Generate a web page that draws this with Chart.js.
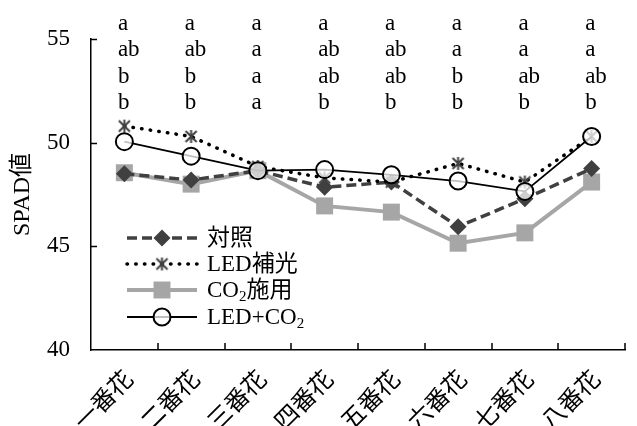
<!DOCTYPE html>
<html>
<head>
<meta charset="utf-8">
<script src="https://cdn.jsdelivr.net/npm/chart.js@4.4.0/dist/chart.umd.min.js"></script>
<style>
  html, body { margin: 0; padding: 0; background: #fff; }
</style>
</head>
<body>
<canvas id="chart" width="637" height="426"></canvas>
<script>
const categories = ['一番花', '二番花', '三番花', '四番花', '五番花', '六番花', '七番花', '八番花'];
const seriesNames = ['対照', 'LED補光', 'CO₂施用', 'LED+CO₂'];

const control = [48.5, 48.2, 48.65, 47.85, 48.1, 45.95, 47.3, 48.75];
const ledLight = [50.8, 50.3, 48.85, 48.3, 48.1, 49.0, 48.1, 50.3];
const co2 = [48.55, 48.0, 48.65, 46.95, 46.65, 45.15, 45.65, 48.1];
const ledCo2 = [50.05, 49.35, 48.65, 48.7, 48.45, 48.15, 47.65, 50.3];

const yTicks = [40, 45, 50, 55];

// significance letters, one row per line of text above the plot
const letterRows = [
  ['a', 'a', 'a', 'a', 'a', 'a', 'a', 'a'],
  ['ab', 'ab', 'a', 'ab', 'ab', 'a', 'a', 'a'],
  ['b', 'b', 'a', 'ab', 'ab', 'b', 'ab', 'ab'],
  ['b', 'b', 'a', 'b', 'b', 'b', 'b', 'b']
];

const SERIF = '"Liberation Serif", "Times New Roman", "Noto Sans CJK JP", serif';

function makeAsterisk(size, color, lw) {
  const c = document.createElement('canvas');
  c.width = c.height = size;
  const g = c.getContext('2d');
  g.strokeStyle = color;
  g.lineWidth = lw;
  const m = size / 2, r = size / 2 - 1, d = r * 0.85;
  g.beginPath();
  g.moveTo(m, m - r); g.lineTo(m, m + r);
  g.moveTo(m - d, m - d); g.lineTo(m + d, m + d);
  g.moveTo(m + d, m - d); g.lineTo(m - d, m + d);
  g.stroke();
  return c;
}
const asterisk = makeAsterisk(15, '#404040', 2);

function drawMarker(ctx, ds, x, y) {
  const r = ds.pointRadius;
  ctx.save();
  ctx.fillStyle = ds.pointBackgroundColor;
  ctx.strokeStyle = ds.pointBorderColor;
  ctx.lineWidth = ds.pointBorderWidth;
  ctx.setLineDash([]);
  if (ds.pointStyle === 'rectRot') {
    ctx.beginPath();
    ctx.moveTo(x - r, y); ctx.lineTo(x, y - r); ctx.lineTo(x + r, y); ctx.lineTo(x, y + r);
    ctx.closePath();
    ctx.fill();
  } else if (ds.pointStyle === 'rect') {
    const s = r * Math.SQRT1_2;
    ctx.fillRect(x - s, y - s, 2 * s, 2 * s);
  } else if (ds.pointStyle === 'circle') {
    ctx.beginPath();
    ctx.arc(x, y, r, 0, Math.PI * 2);
    ctx.fill();
    ctx.stroke();
  } else {
    ctx.drawImage(ds.pointStyle, x - ds.pointStyle.width / 2, y - ds.pointStyle.height / 2);
  }
  ctx.restore();
}

function drawSubText(ctx, text, x, y, size) {
  const parts = text.split('₂');
  let cx = x;
  parts.forEach((p, k) => {
    ctx.font = size + 'px ' + SERIF;
    ctx.fillText(p, cx, y);
    cx += ctx.measureText(p).width;
    if (k < parts.length - 1) {
      ctx.font = Math.round(size * 0.65) + 'px ' + SERIF;
      ctx.fillText('2', cx, y + size * 0.28);
      cx += ctx.measureText('2').width;
    }
  });
}

const extrasPlugin = {
  id: 'extras',
  afterDraw(chart) {
    const ctx = chart.ctx;
    const xs = chart.scales.x, ys = chart.scales.y;
    const area = chart.chartArea;
    ctx.save();
    ctx.strokeStyle = '#000';
    ctx.lineWidth = 1.5;
    ctx.setLineDash([]);
    // inward tick marks
    ctx.beginPath();
    yTicks.slice(1).forEach(v => {
      const py = Math.round(ys.getPixelForValue(v)) + 0.5;
      ctx.moveTo(area.left, py); ctx.lineTo(area.left + 6, py);
    });
    const step = xs.getPixelForValue(1) - xs.getPixelForValue(0);
    categories.forEach((c, i) => {
      const px = Math.round(xs.getPixelForValue(i) + step / 2);
      ctx.moveTo(px, area.bottom); ctx.lineTo(px, area.bottom - 7);
    });
    ctx.stroke();

    // significance letters
    ctx.fillStyle = '#000';
    ctx.textBaseline = 'alphabetic';
    ctx.textAlign = 'left';
    ctx.font = '23px ' + SERIF;
    const baselines = [30, 56, 82.5, 109];
    letterRows.forEach((row, r) => {
      row.forEach((t, i) => {
        ctx.fillText(t, xs.getPixelForValue(i) - 6.5, baselines[r]);
      });
    });

    // legend with line + marker
    const rows = [238, 264, 290, 317];
    ctx.textBaseline = 'middle';
    chart.data.datasets.forEach((ds, i) => {
      const y = rows[i];
      ctx.save();
      ctx.strokeStyle = ds.borderColor;
      ctx.lineWidth = ds.borderWidth;
      ctx.lineCap = ds.borderCapStyle || 'butt';
      ctx.setLineDash(ds.borderDash || []);
      ctx.beginPath();
      ctx.moveTo(127, y); ctx.lineTo(197, y);
      ctx.stroke();
      ctx.restore();
      drawMarker(ctx, ds, 162, y);
      ctx.fillStyle = '#000';
      drawSubText(ctx, seriesNames[i], 207, y + 1, 23);
    });
    ctx.restore();
  }
};

Chart.defaults.color = '#000';
Chart.defaults.font.family = SERIF;

new Chart(document.getElementById('chart'), {
  type: 'line',
  data: {
    labels: categories,
    datasets: [
      {
        label: seriesNames[0], data: control, order: 2,
        borderColor: '#404040', borderWidth: 3.5, borderDash: [10, 5],
        pointStyle: 'rectRot', pointRadius: 8.5,
        pointBackgroundColor: '#404040', pointBorderColor: '#404040', pointBorderWidth: 0
      },
      {
        label: seriesNames[1], data: ledLight, order: 1,
        borderColor: '#000', borderWidth: 3.5, borderDash: [0.5, 8.2], borderCapStyle: 'round',
        pointStyle: asterisk, pointRadius: 7,
        pointBackgroundColor: '#404040', pointBorderColor: '#404040', pointBorderWidth: 0
      },
      {
        label: seriesNames[2], data: co2, order: 3,
        borderColor: '#a6a6a6', borderWidth: 4,
        pointStyle: 'rect', pointRadius: 12,
        pointBackgroundColor: '#a6a6a6', pointBorderColor: '#a6a6a6', pointBorderWidth: 0
      },
      {
        label: seriesNames[3], data: ledCo2, order: 0,
        borderColor: '#000', borderWidth: 1.8,
        pointStyle: 'circle', pointRadius: 8.5,
        pointBackgroundColor: 'rgba(255,255,255,0.75)', pointBorderColor: '#000', pointBorderWidth: 2
      }
    ]
  },
  options: {
    responsive: false,
    animation: false,
    devicePixelRatio: 1,
    layout: { padding: { top: 39, right: 3, left: 0, bottom: 0 } },
    plugins: {
      legend: { display: false },
      tooltip: { enabled: false }
    },
    elements: { line: { tension: 0 } },
    scales: {
      x: {
        type: 'category',
        offset: true,
        grid: { display: false, drawTicks: false },
        border: { display: true, color: '#000', width: 1.5 },
        ticks: {
          autoSkip: false, minRotation: 45, maxRotation: 45, padding: 16, labelOffset: 6,
          font: { size: 24, family: SERIF }
        },
        afterFit(scale) { scale.height = 76; }
      },
      y: {
        min: 40, max: 55,
        grid: { display: false, drawTicks: false },
        border: { display: true, color: '#000', width: 1.5 },
        afterBuildTicks(scale) { scale.ticks = yTicks.map(v => ({ value: v })); },
        ticks: { padding: 21, font: { size: 23, family: SERIF } },
        title: {
          display: true, text: 'SPAD値',
          font: { size: 24, family: SERIF },
          padding: { top: 8, bottom: 0 }
        },
        afterFit(scale) { scale.width = 91; }
      }
    }
  },
  plugins: [extrasPlugin]
});
</script>
</body>
</html>
